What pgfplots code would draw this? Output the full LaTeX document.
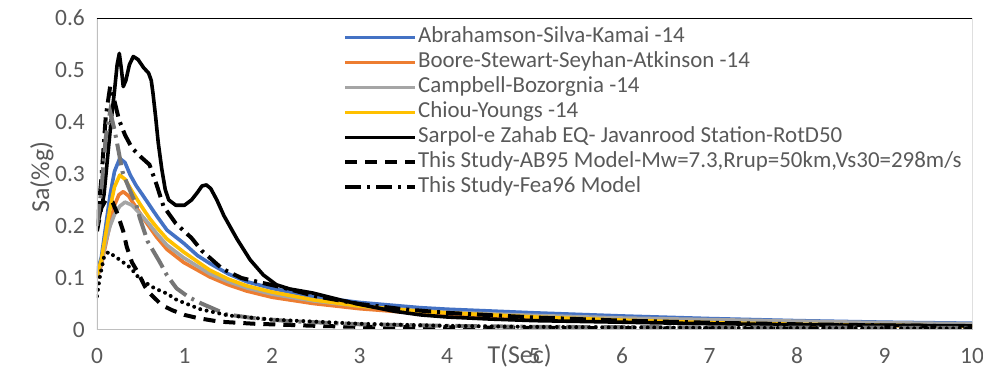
\documentclass[border=0pt]{standalone}
\usepackage{fontspec}
\setmainfont{Carlito}
\usepackage{pgfplots}
\pgfplotsset{compat=1.18}
\definecolor{askblue}{HTML}{4472C4}
\definecolor{bssaorange}{HTML}{ED7D31}
\definecolor{cbgray}{HTML}{A5A5A5}
\definecolor{cyyellow}{HTML}{FFC000}
\definecolor{txtgray}{HTML}{595959}
\definecolor{dkgray}{HTML}{767676}
\definecolor{framegray}{HTML}{BFBFBF}
\begin{document}
\begin{tikzpicture}
\begin{axis}[
  scale only axis, width=875bp, height=312bp,
  xmin=0, xmax=10, ymin=0, ymax=0.6,
  xtick={0,1,2,3,4,5,6,7,8,9,10},
  ytick={0,0.1,0.2,0.3,0.4,0.5,0.6},
  major tick length=0pt,
  axis line style={draw=none},
  /pgf/number format/assume math mode=true,
  tick label style={font=\fontsize{23.5}{27}\selectfont, text=txtgray, inner sep=0pt},
  yticklabel style={/pgf/number format/fixed, /pgf/number format/precision=1, anchor=east, xshift=-12bp},
  xticklabel style={anchor=base, yshift=-33bp},
  xlabel={T(Sec)},
  xlabel style={at={(axis description cs:0.483,0)}, anchor=base, yshift=-33bp, font=\fontsize{26}{30}\selectfont, text=txtgray, inner sep=0pt},
  ylabel={Sa(\%g)},
  ylabel style={at={(axis description cs:-0.063,0.49)}, anchor=center, font=\fontsize{26}{30}\selectfont, text=txtgray, inner sep=0pt},
  legend cell align=left,
  legend image code/.code={\draw[#1] (0bp,0bp) -- (70bp,0bp); \path (71bp,0bp);},
  legend style={at={(axis description cs:0.281,0.97)}, anchor=north west, draw=none, fill=none,
    font=\fontsize{23}{27}\selectfont, text=txtgray, inner sep=0pt, row sep=5.5bp,
    nodes={inner sep=0pt, text height=15bp, text depth=4.5bp}},
]
\addplot[askblue, line width=3.6bp, line join=round] coordinates {
(0,0.11) (0.05,0.14) (0.1,0.2) (0.15,0.26) (0.2,0.305) (0.26,0.33) (0.32,0.322) (0.38,0.298) (0.45,0.277) (0.52,0.26) (0.6,0.24) (0.68,0.22) (0.8,0.192) (0.99,0.167) (1.15,0.143) (1.29,0.128) (1.5,0.108) (1.71,0.093) (2,0.08) (2.47,0.064) (3,0.053) (3.69,0.043) (4,0.04) (5,0.033) (6,0.027) (7,0.022) (8,0.018) (9,0.015) (10,0.013)};
\addlegendentry{Abrahamson-Silva-Kamai -14}
\addplot[bssaorange, line width=3.6bp, line join=round] coordinates {
(0,0.1) (0.05,0.125) (0.1,0.165) (0.15,0.205) (0.2,0.24) (0.25,0.26) (0.3,0.266) (0.36,0.258) (0.45,0.235) (0.55,0.21) (0.68,0.179) (0.8,0.155) (0.99,0.13) (1.29,0.102) (1.5,0.087) (1.71,0.075) (2,0.063) (2.47,0.051) (3,0.041) (3.69,0.032) (4,0.029) (5,0.022) (6,0.017) (7,0.013) (8,0.011) (9,0.009) (10,0.007)};
\addlegendentry{Boore-Stewart-Seyhan-Atkinson -14}
\addplot[cbgray, line width=3.6bp, line join=round] coordinates {
(0,0.1) (0.05,0.13) (0.1,0.17) (0.15,0.2) (0.2,0.222) (0.26,0.238) (0.32,0.246) (0.4,0.24) (0.5,0.222) (0.6,0.203) (0.68,0.186) (0.8,0.163) (0.99,0.139) (1.29,0.108) (1.5,0.093) (1.71,0.081) (2,0.069) (2.47,0.056) (3,0.046) (3.69,0.037) (4,0.034) (5,0.028) (6,0.023) (7,0.02) (8,0.017) (9,0.014) (10,0.012)};
\addlegendentry{Campbell-Bozorgnia -14}
\addplot[cyyellow, line width=3.6bp, line join=round] coordinates {
(0,0.105) (0.05,0.135) (0.1,0.185) (0.15,0.235) (0.2,0.275) (0.26,0.298) (0.32,0.29) (0.4,0.267) (0.5,0.24) (0.6,0.215) (0.68,0.198) (0.8,0.175) (0.99,0.15) (1.29,0.115) (1.5,0.098) (1.71,0.085) (2,0.073) (2.47,0.058) (3,0.046) (3.69,0.036) (4,0.033) (5,0.025) (6,0.019) (7,0.014) (8,0.011) (9,0.009) (10,0.007)};
\addlegendentry{Chiou-Youngs -14}
\addplot[black, line width=3.6bp, line join=round] coordinates {
(0,0.20) (0.03,0.22) (0.08,0.26) (0.12,0.33) (0.16,0.40) (0.2,0.46) (0.23,0.51) (0.255,0.532) (0.28,0.50) (0.3,0.468) (0.33,0.48) (0.37,0.51) (0.415,0.526) (0.47,0.52) (0.53,0.505) (0.59,0.494) (0.62,0.48) (0.64,0.455) (0.67,0.41) (0.7,0.36) (0.74,0.31) (0.78,0.27) (0.82,0.25) (0.9,0.24) (1.0,0.24) (1.08,0.25) (1.15,0.265) (1.2,0.277) (1.25,0.279) (1.3,0.272) (1.37,0.25) (1.45,0.22) (1.52,0.199) (1.6,0.175) (1.75,0.135) (1.9,0.106) (2.05,0.087) (2.2,0.079) (2.47,0.071) (2.8,0.057) (3.04,0.048) (3.4,0.036) (3.7,0.029) (4.0,0.025) (4.5,0.021) (5,0.018) (6,0.015) (6.66,0.013) (7,0.012) (8,0.01) (9,0.009) (10,0.008)};
\addlegendentry{Sarpol-e Zahab EQ- Javanrood Station-RotD50}
\addplot[black, line width=4bp, dash pattern=on 12bp off 8bp] coordinates {
(0,0.19) (0.05,0.235) (0.1,0.25) (0.18,0.245) (0.23,0.225) (0.26,0.21) (0.3,0.19) (0.34,0.16) (0.4,0.13) (0.47,0.11) (0.55,0.083) (0.6,0.071) (0.74,0.048) (0.86,0.038) (1.0,0.029) (1.15,0.023) (1.4,0.016) (1.8,0.012) (2.5,0.008) (3,0.006) (4,0.005) (5,0.004) (7,0.003) (10,0.002)};
\addlegendentry{This Study-AB95 Model-Mw=7.3,Rrup=50km,Vs30=298m/s}
\addplot[black, line width=4bp, dash pattern=on 16bp off 6bp on 3bp off 6bp] coordinates {
(0,0.2) (0.05,0.29) (0.1,0.41) (0.15,0.468) (0.2,0.44) (0.25,0.405) (0.32,0.375) (0.4,0.35) (0.5,0.333) (0.6,0.318) (0.68,0.28) (0.76,0.238) (0.9,0.205) (1.08,0.177) (1.2,0.152) (1.43,0.118) (1.65,0.1) (1.88,0.091) (2.09,0.083) (2.5,0.065) (3,0.05) (3.5,0.04) (4,0.033) (5,0.024) (6,0.018) (7,0.014) (8,0.011) (9,0.009) (10,0.007)};
\addlegendentry{This Study-Fea96 Model}
\addplot[dkgray, line width=4bp, dash pattern=on 22bp off 6bp on 3bp off 6bp, forget plot] coordinates {
(0,0.2) (0.05,0.27) (0.1,0.37) (0.15,0.42) (0.2,0.385) (0.24,0.35) (0.29,0.305) (0.36,0.275) (0.45,0.24) (0.49,0.215) (0.58,0.17) (0.72,0.13) (0.8,0.105) (0.91,0.08) (1.05,0.063) (1.18,0.052) (1.48,0.03) (1.78,0.023) (2.2,0.017) (3,0.011) (4,0.008) (5,0.006) (7,0.005) (10,0.004)};
\addplot[black, line width=4bp, line cap=round, dash pattern=on 0bp off 6.5bp, forget plot] coordinates {
(0,0.065) (0.03,0.1) (0.08,0.14) (0.13,0.15) (0.26,0.135) (0.38,0.12) (0.49,0.098) (0.66,0.08) (0.8,0.07) (0.91,0.058) (1.18,0.04) (1.5,0.028) (2,0.02) (3,0.012) (4,0.008) (5,0.006) (7,0.004) (10,0.003)};
\draw[framegray, line width=1.5bp] (rel axis cs:0,1) -- (rel axis cs:0,0) -- (rel axis cs:1,0);
\draw[black, line width=1bp] (rel axis cs:0,1) -- (rel axis cs:1,1) -- (rel axis cs:1,0);
\end{axis}
\pgfresetboundingbox
\path[use as bounding box] (-97bp,-44bp) rectangle (886bp,330bp);
\end{tikzpicture}
\end{document}
